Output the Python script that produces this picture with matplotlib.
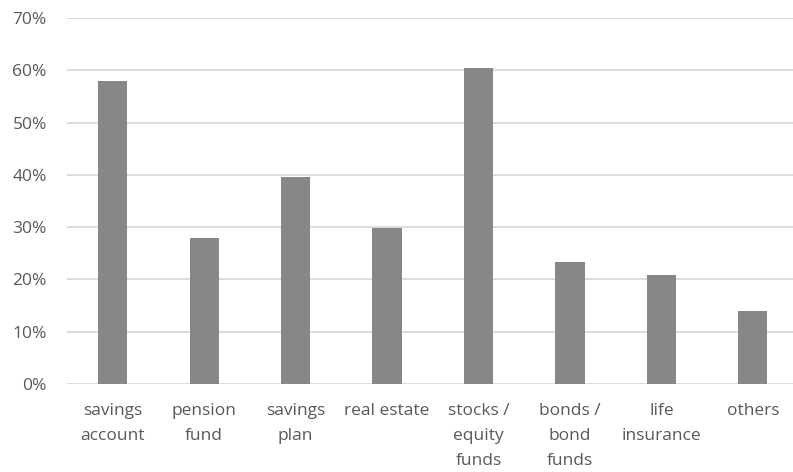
import matplotlib
matplotlib.use('Agg')
import matplotlib.pyplot as plt
from matplotlib.ticker import FuncFormatter

categories = ['savings\naccount', 'pension\nfund', 'savings\nplan', 'real estate',
              'stocks /\nequity\nfunds', 'bonds /\nbond\nfunds', 'life\ninsurance', 'others']
shares = [57.9, 28.0, 39.5, 29.9, 60.5, 23.3, 20.8, 14.0]
yticks = [0, 10, 20, 30, 40, 50, 60, 70]

BAR_C = '#878787'
GRID_C = '#d9d9d9'
TXT_C = '#595959'

plt.rcParams['font.family'] = ['Open Sans', 'DejaVu Sans']

fig = plt.figure(figsize=(7.93, 4.72), dpi=100)
ax = fig.add_axes([67 / 793, 1 - 384 / 472, 1 - 67 / 793, (384 - 18) / 472])

x = range(len(categories))
ax.bar(x, shares, width=0.32, color=BAR_C, zorder=3)

ax.set_xlim(-0.5, 7.44)
ax.set_ylim(0, 70)
ax.set_yticks(yticks)
ax.yaxis.set_major_formatter(FuncFormatter(lambda v, p: f'{v:.0f}%'))
ax.yaxis.grid(True, color=GRID_C, lw=1.3, zorder=0)
ax.set_axisbelow(True)

ax.set_xticks(list(x))
ax.set_xticklabels(categories, linespacing=1.72)
for s in ax.spines.values():
    s.set_visible(False)
ax.tick_params(axis='both', length=0, colors=TXT_C, labelsize=12.5)
ax.tick_params(axis='x', pad=14)
ax.tick_params(axis='y', pad=14.5)

fig.savefig('out.png', dpi=100, facecolor='white')
